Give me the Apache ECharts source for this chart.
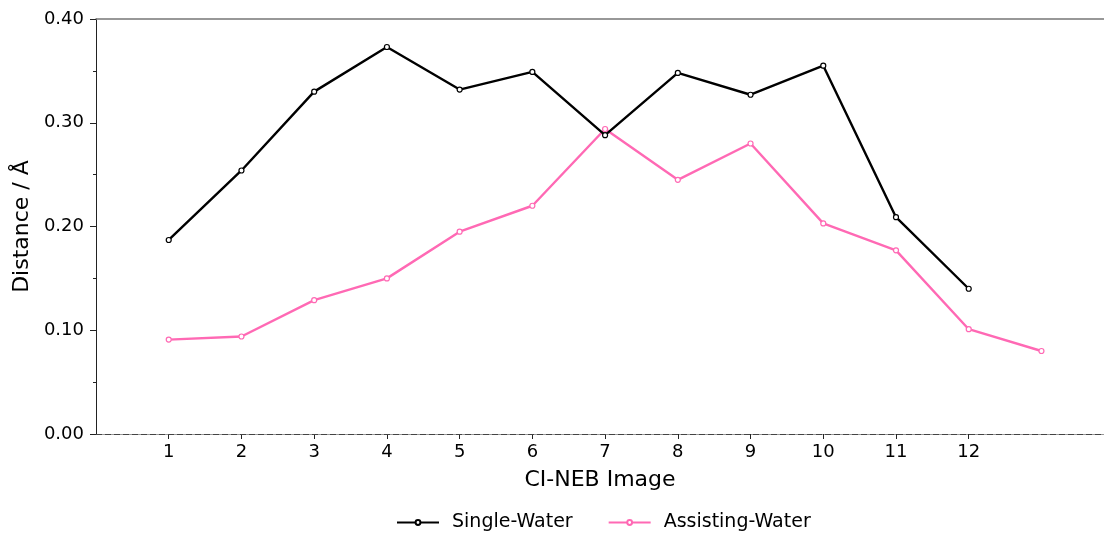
<!DOCTYPE html>
<html>
<head>
<meta charset="utf-8">
<script src="https://cdn.jsdelivr.net/npm/echarts@6/dist/echarts.min.js"></script>
<style>
  html, body { margin: 0; padding: 0; background: #fff; }
  #chart { width: 1104px; height: 533px; }
</style>
</head>
<body>
<div id="chart"></div>
<script>
// CI-NEB image indices and distances (Å)
const singleImages = [1, 2, 3, 4, 5, 6, 7, 8, 9, 10, 11, 12];
const singleWater = [0.187, 0.254, 0.330, 0.373, 0.332, 0.349, 0.288, 0.348, 0.327, 0.355, 0.209, 0.140];
const assistImages = [1, 2, 3, 4, 5, 6, 7, 8, 9, 10, 11, 12, 13];
const assistingWater = [0.091, 0.094, 0.129, 0.150, 0.195, 0.220, 0.294, 0.245, 0.280, 0.203, 0.177, 0.101, 0.080];
const xTickLabels = [1, 2, 3, 4, 5, 6, 7, 8, 9, 10, 11, 12];

const FONT = 'DejaVu Sans';
const chart = echarts.init(document.getElementById('chart'), null, { renderer: 'canvas' });

const pair = (xs, ys) => xs.map((x, i) => [x, ys[i]]);

chart.setOption({
  animation: false,
  textStyle: { fontFamily: FONT, color: '#000' },
  grid: { left: 96, right: 0, top: 19, bottom: 99, containLabel: false },
  legend: {
    bottom: -4,
    left: 391,
    itemWidth: 42,
    itemHeight: 6,
    itemGap: 35,
    textStyle: { fontFamily: FONT, fontSize: 19, color: '#000', padding: [0, 0, 0, 8] },
    data: ['Single-Water', 'Assisting-Water']
  },
  xAxis: [{
    type: 'value',
    min: 0,
    max: 13.86,
    interval: 1,
    name: 'CI-NEB Image',
    nameLocation: 'middle',
    nameGap: 35,
    nameTextStyle: { fontFamily: FONT, fontSize: 22, color: '#000' },
    axisLine: { show: true, lineStyle: { color: '#999', width: 1 } },
    axisTick: {
      show: true, length: 5, inside: false,
      lineStyle: { color: '#222', width: 1 },
      customValues: xTickLabels
    },
    axisLabel: {
      fontFamily: FONT, fontSize: 18, color: '#000', margin: 9,
      customValues: xTickLabels,
      formatter: v => String(v)
    },
    splitLine: { show: false }
  }, {
    type: 'value',
    position: 'top',
    min: 0,
    max: 13.86,
    axisLine: { show: true, lineStyle: { color: '#777', width: 1.5 } },
    axisTick: { show: false },
    axisLabel: { show: false },
    splitLine: { show: false }
  }],
  yAxis: {
    type: 'value',
    min: 0,
    max: 0.4,
    interval: 0.1,
    name: 'Distance / Å',
    nameLocation: 'middle',
    nameGap: 53,
    nameTextStyle: { fontFamily: FONT, fontSize: 22, color: '#000' },
    axisLine: { show: true, lineStyle: { color: '#222', width: 1 } },
    axisTick: { show: true, length: 6, lineStyle: { color: '#222', width: 1 } },
    minorTick: { show: true, splitNumber: 2, length: 3, lineStyle: { color: '#222', width: 1 } },
    axisLabel: {
      fontFamily: FONT, fontSize: 18, color: '#000', margin: 12,
      formatter: v => v.toFixed(2)
    },
    splitLine: { show: false }
  },
  series: [{
    name: 'Single-Water',
    type: 'line',
    data: pair(singleImages, singleWater),
    symbol: 'circle',
    symbolSize: 5,
    showAllSymbol: true,
    lineStyle: { color: '#000', width: 2.4 },
    itemStyle: { color: '#fff', borderColor: '#000', borderWidth: 1.2 },
    z: 3,
    markLine: {
      silent: true,
      symbol: 'none',
      label: { show: false },
      lineStyle: { color: '#444', width: 1, type: [6, 3] },
      data: [{ yAxis: 0 }]
    }
  }, {
    name: 'Assisting-Water',
    type: 'line',
    data: pair(assistImages, assistingWater),
    symbol: 'circle',
    symbolSize: 5,
    showAllSymbol: true,
    lineStyle: { color: '#ff69b4', width: 2.4 },
    itemStyle: { color: '#fff', borderColor: '#ff69b4', borderWidth: 1.2 },
    z: 2
  }]
});
</script>
</body>
</html>
